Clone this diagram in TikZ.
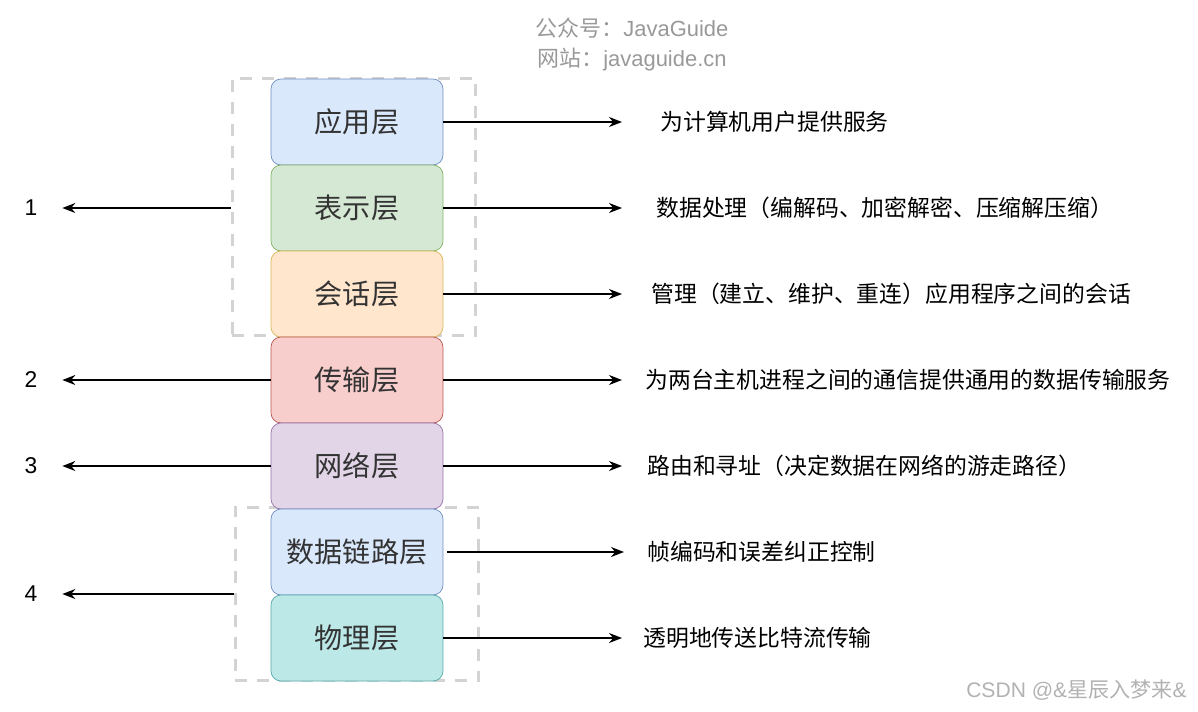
\documentclass[tikz,border=0pt]{standalone}
\usepackage{fontspec}
\setmainfont{Liberation Sans}
\newfontfamily\cjk{Noto Sans CJK SC}
\usetikzlibrary{arrows.meta}

\definecolor{sininen}{HTML}{DAE8FC}
\definecolor{sininenr}{HTML}{6C8EBF}
\definecolor{vihrea}{HTML}{D5E8D4}
\definecolor{vihrear}{HTML}{82B366}
\definecolor{oranssi}{HTML}{FFE6CC}
\definecolor{oranssir}{HTML}{D6B656}
\definecolor{punainen}{HTML}{F8CECC}
\definecolor{punainenr}{HTML}{B85450}
\definecolor{violetti}{HTML}{E1D5E7}
\definecolor{violettir}{HTML}{9673A6}
\definecolor{turkoosi}{HTML}{BCE8E8}
\definecolor{turkoosir}{HTML}{56A8A8}
\definecolor{harmaa}{HTML}{D3D3D3}

\begin{document}
\begin{tikzpicture}[x=0.02cm,y=-0.02cm,
kerros/.style={draw,rounded corners=0.2cm,minimum width=3.44cm,minimum height=1.72cm,inner sep=0,
  font=\cjk\fontsize{16}{16}\selectfont,text=black!80},
ryhma/.style={draw=harmaa,line width=1.7pt,dash pattern=on 0.24cm off 0.2cm,inner sep=0},
selitys/.style={anchor=west,inner sep=0,font=\cjk\fontsize{13}{13}\selectfont,text=black},
luku/.style={minimum width=1.24cm,inner sep=0,font=\fontsize{13}{13}\selectfont},
nuoli/.style={draw,line width=0.8pt,-{Stealth[length=2.6mm,width=2mm]}}]
\useasboundingbox (0,0) rectangle (1198,711);
% watermark
\node[text=black!40,font=\fontsize{12.5}{12.5}\selectfont] (wm1) at (632,28) {{\cjk 公众号：}JavaGuide};
\node[text=black!40,font=\fontsize{12.5}{12.5}\selectfont] (wm2) at (632,60) {{\cjk 网站：}javaguide.cn};
\node[text=black!30,anchor=east,font=\fontsize{12}{12}\selectfont] (csdn) at (1193,690) {CSDN @\&{\cjk 星辰入梦来}\&};
% groups
\node[ryhma,minimum width=4.88cm,minimum height=5.16cm] (g1) at (354,207) {};
\node[ryhma,minimum width=4.88cm,minimum height=3.48cm] (g4) at (357,594) {};
% layers
\node[kerros,fill=sininen,draw=sininenr] (app) at (357,122) {应用层};
\node[kerros,fill=vihrea,draw=vihrear] (pres) at (357,208) {表示层};
\node[kerros,fill=oranssi,draw=oranssir] (sess) at (357,294) {会话层};
\node[kerros,fill=punainen,draw=punainenr] (trans) at (357,380) {传输层};
\node[kerros,fill=violetti,draw=violettir] (net) at (357,466) {网络层};
\node[kerros,fill=sininen,draw=sininenr] (link) at (357,552) {数据链路层};
\node[kerros,fill=turkoosi,draw=turkoosir] (phys) at (357,638) {物理层};
% numbers
\node[luku] (n1) at (31,208) {1};
\node[luku] (n2) at (31,380) {2};
\node[luku] (n3) at (31,466) {3};
\node[luku] (n4) at (31,594) {4};
\path[nuoli] (g1.west |- n1) -- (n1.east);
\path[nuoli] (trans.west) -- (n2.east);
\path[nuoli] (net.west) -- (n3.east);
\path[nuoli] (g4.west |- n4) -- (n4.east);
% descriptions
\node[selitys] (d1) at (660,122) {为计算机用户提供服务};
\node[selitys] (d2) at (656,208) {数据处理（编解码、加密解密、压缩解压缩）};
\node[selitys] (d3) at (651,294) {管理（建立、维护、重连）应用程序之间的会话};
\node[selitys] (d4) at (645,380) {为两台主机进程之间的通信提供通用的数据传输服务};
\node[selitys] (d5) at (647,466) {路由和寻址（决定数据在网络的游走路径）};
\node[selitys] (d6) at (647,552) {帧编码和误差纠正控制};
\node[selitys] (d7) at (643,638) {透明地传送比特流传输};
\foreach \k/\d in {app/d1,pres/d2,sess/d3,trans/d4,net/d5,phys/d7}
  \coordinate (e\d) at (622,0 |- \k);
\coordinate (ed6) at (624,552);
\coordinate (s6) at (447,552);
\path[nuoli] (app.east) -- (ed1);
\path[nuoli] (pres.east) -- (ed2);
\path[nuoli] (sess.east) -- (ed3);
\path[nuoli] (trans.east) -- (ed4);
\path[nuoli] (net.east) -- (ed5);
\path[nuoli] (s6) -- (ed6);
\path[nuoli] (phys.east) -- (ed7);
\end{tikzpicture}
\end{document}
